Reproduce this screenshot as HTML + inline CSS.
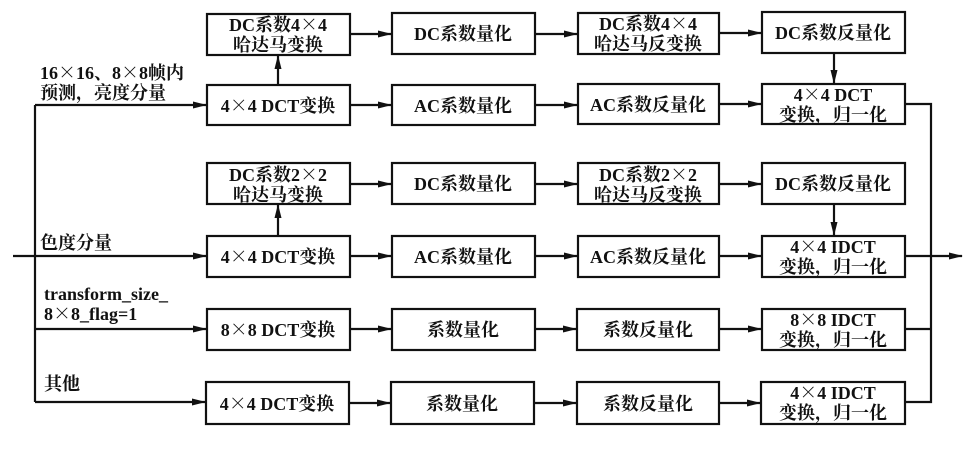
<!DOCTYPE html>
<html><head><meta charset="utf-8"><style>
html,body{margin:0;padding:0;background:#fff;}
svg{display:block;}
text{font-family:"Liberation Serif","Noto Serif CJK SC",serif;font-weight:bold;fill:#111;}
tspan.x{font-family:"Noto Serif CJK SC",serif;}
</style></head><body>
<svg width="972" height="454" viewBox="0 0 972 454" xmlns="http://www.w3.org/2000/svg">
<defs><marker id="a" markerWidth="14" markerHeight="8" refX="13" refY="4" orient="auto" markerUnits="userSpaceOnUse"><path d="M0,0.5 L14,4 L0,7.5 Z" fill="#111"/></marker></defs>
<g fill="none" stroke="#111" stroke-width="2.2">
<rect x="207" y="14" width="143" height="41"/><rect x="392" y="13" width="143" height="41"/><rect x="578" y="13" width="141" height="41"/><rect x="762" y="12" width="143" height="41"/>
<rect x="207" y="85" width="143" height="40"/><rect x="392" y="85" width="143" height="40"/><rect x="578" y="84" width="141" height="40"/><rect x="762" y="84" width="143" height="40"/>
<rect x="207" y="163" width="143" height="41"/><rect x="392" y="163" width="143" height="41"/><rect x="578" y="163" width="141" height="41"/><rect x="762" y="163" width="143" height="41"/>
<rect x="207" y="236" width="143" height="41"/><rect x="392" y="236" width="143" height="41"/><rect x="578" y="236" width="141" height="41"/><rect x="762" y="236" width="143" height="41"/>
<rect x="207" y="309" width="143" height="41"/><rect x="392" y="309" width="143" height="41"/><rect x="577" y="309" width="142" height="41"/><rect x="762" y="309" width="143" height="41"/>
<rect x="206" y="382" width="143" height="42"/><rect x="391" y="382" width="143" height="42"/><rect x="577" y="382" width="142" height="42"/><rect x="761" y="382" width="144" height="42"/>
<g marker-end="url(#a)">
<line x1="350" y1="34" x2="391" y2="34"/><line x1="535" y1="34" x2="577" y2="34"/><line x1="719" y1="33" x2="761" y2="33"/>
<line x1="350" y1="105" x2="391" y2="105"/><line x1="535" y1="105" x2="577" y2="105"/><line x1="719" y1="104" x2="761" y2="104"/>
<line x1="350" y1="184" x2="391" y2="184"/><line x1="535" y1="184" x2="577" y2="184"/><line x1="719" y1="184" x2="761" y2="184"/>
<line x1="350" y1="256" x2="391" y2="256"/><line x1="535" y1="256" x2="577" y2="256"/><line x1="719" y1="256" x2="761" y2="256"/>
<line x1="350" y1="329" x2="391" y2="329"/><line x1="535" y1="329" x2="576" y2="329"/><line x1="719" y1="329" x2="761" y2="329"/>
<line x1="349" y1="403" x2="390" y2="403"/><line x1="534" y1="403" x2="576" y2="403"/><line x1="719" y1="403" x2="760" y2="403"/>
<line x1="35" y1="105" x2="206" y2="105"/><line x1="13" y1="256" x2="206" y2="256"/><line x1="35" y1="329" x2="206" y2="329"/><line x1="35" y1="402" x2="205" y2="402"/>
<line x1="278" y1="85" x2="278" y2="56"/><line x1="278" y1="236" x2="278" y2="205"/>
<line x1="834" y1="53" x2="834" y2="83"/><line x1="834" y1="204" x2="834" y2="235"/>
<line x1="905" y1="256" x2="962" y2="256"/>
</g>
<polyline points="35,105 35,402"/>
<polyline points="905,104 931,104 931,402 905,402"/>
<line x1="905" y1="329" x2="931" y2="329"/>
</g>
<g font-size="18" text-anchor="middle">
<text x="278" y="31">DC系数4<tspan class="x">×</tspan>4</text><text x="278" y="51">哈达马变换</text>
<text x="463" y="40">DC系数量化</text>
<text x="648" y="30">DC系数4<tspan class="x">×</tspan>4</text><text x="648" y="50">哈达马反变换</text>
<text x="833" y="39">DC系数反量化</text>
<text x="278" y="112">4<tspan class="x">×</tspan>4 DCT变换</text><text x="463" y="112">AC系数量化</text><text x="648" y="111">AC系数反量化</text>
<text x="833" y="101">4<tspan class="x">×</tspan>4 DCT</text><text x="833" y="121">变换，归一化</text>
<text x="278" y="181">DC系数2<tspan class="x">×</tspan>2</text><text x="278" y="201">哈达马变换</text>
<text x="463" y="190">DC系数量化</text>
<text x="648" y="181">DC系数2<tspan class="x">×</tspan>2</text><text x="648" y="201">哈达马反变换</text>
<text x="833" y="190">DC系数反量化</text>
<text x="278" y="263">4<tspan class="x">×</tspan>4 DCT变换</text><text x="463" y="263">AC系数量化</text><text x="648" y="263">AC系数反量化</text>
<text x="833" y="253">4<tspan class="x">×</tspan>4 IDCT</text><text x="833" y="273">变换，归一化</text>
<text x="278" y="336">8<tspan class="x">×</tspan>8 DCT变换</text><text x="463" y="336">系数量化</text><text x="648" y="336">系数反量化</text>
<text x="833" y="326">8<tspan class="x">×</tspan>8 IDCT</text><text x="833" y="346">变换，归一化</text>
<text x="277" y="410">4<tspan class="x">×</tspan>4 DCT变换</text><text x="462" y="410">系数量化</text><text x="648" y="410">系数反量化</text>
<text x="833" y="399">4<tspan class="x">×</tspan>4 IDCT</text><text x="833" y="419">变换，归一化</text>
</g>
<g font-size="18">
<text x="40" y="79">16<tspan class="x">×</tspan>16、8<tspan class="x">×</tspan>8帧内</text><text x="40" y="99">预测，亮度分量</text>
<text x="40" y="249">色度分量</text>
<text x="44" y="300">transform_size_</text><text x="44" y="320">8<tspan class="x">×</tspan>8_flag=1</text>
<text x="44" y="390">其他</text>
</g>
</svg>
</body></html>
